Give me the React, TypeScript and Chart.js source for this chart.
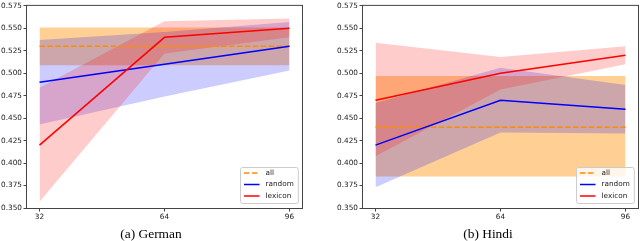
import React, { useEffect, useRef } from "react";
import { Chart, registerables } from "chart.js";

Chart.register(...registerables);

// ---------- data ----------
const X_VALUES = [32, 64, 96];
const X_TICKS = [32, 64, 96];
const Y_TICKS = [0.35, 0.375, 0.4, 0.425, 0.45, 0.475, 0.5, 0.525, 0.55, 0.575];
const SERIES_LABELS = ["all", "random", "lexicon"];

const GERMAN_ALL = [0.53, 0.53, 0.53];
const GERMAN_ALL_HI = [0.551, 0.551, 0.551];
const GERMAN_ALL_LO = [0.509, 0.509, 0.509];
const GERMAN_RANDOM = [0.49, 0.51, 0.53];
const GERMAN_RANDOM_HI = [0.537, 0.546, 0.557];
const GERMAN_RANDOM_LO = [0.443, 0.474, 0.503];
const GERMAN_LEXICON = [0.42, 0.54, 0.55];
const GERMAN_LEXICON_HI = [0.484, 0.558, 0.561];
const GERMAN_LEXICON_LO = [0.357, 0.522, 0.54];

const HINDI_ALL = [0.44, 0.44, 0.44];
const HINDI_ALL_HI = [0.497, 0.497, 0.497];
const HINDI_ALL_LO = [0.385, 0.385, 0.385];
const HINDI_RANDOM = [0.42, 0.47, 0.46];
const HINDI_RANDOM_HI = [0.467, 0.506, 0.487];
const HINDI_RANDOM_LO = [0.373, 0.434, 0.433];
const HINDI_LEXICON = [0.47, 0.5, 0.52];
const HINDI_LEXICON_HI = [0.534, 0.518, 0.53];
const HINDI_LEXICON_LO = [0.4075, 0.482, 0.51];

// ---------- styles ----------
const LINE_COLORS = ["#ff8c00", "#0000ff", "#ff0000"];
const FILL_COLORS = ["rgba(255,140,0,0.42)", "rgba(0,0,255,0.2)", "rgba(255,0,0,0.2)"];
const DASHES: number[][] = [[5.5, 2.4], [], []];
const TICK_FONT = { family: "DejaVu Sans", size: 7.3 };

const pts = (ys: number[]) => X_VALUES.map((x, i) => ({ x, y: ys[i] }));

const decor = {
  id: "decor",
  afterDraw(chart: any, _args: any, opts: any) {
    const { ctx, chartArea: a } = chart;
    ctx.save();
    // frame
    ctx.strokeStyle = "#444";
    ctx.lineWidth = 1;
    ctx.setLineDash([]);
    ctx.strokeRect(a.left - 0.5, a.top - 0.5, a.right - a.left + 1, a.bottom - a.top + 1);

    // legend
    ctx.font = `${TICK_FONT.size}px "${TICK_FONT.family}"`;
    const tw = Math.max(...SERIES_LABELS.map((l) => ctx.measureText(l).width));
    const w = 25 + tw + 4.5;
    const h = 36;
    const x0 = a.right - 3.7 - w;
    const y0 = a.bottom - 4.5 - h;
    ctx.beginPath();
    (ctx as any).roundRect(x0, y0, w, h, 2);
    ctx.fillStyle = "rgba(255,255,255,0.8)";
    ctx.fill();
    ctx.strokeStyle = "#cccccc";
    ctx.lineWidth = 1;
    ctx.stroke();
    SERIES_LABELS.forEach((lab, i) => {
      const y = y0 + 5.5 + i * 11.5;
      ctx.beginPath();
      ctx.setLineDash(DASHES[i]);
      ctx.strokeStyle = LINE_COLORS[i];
      ctx.lineWidth = 1.5;
      ctx.moveTo(x0 + 3.5, y);
      ctx.lineTo(x0 + 19, y);
      ctx.stroke();
      ctx.setLineDash([]);
      ctx.fillStyle = "#222";
      ctx.textAlign = "left";
      ctx.textBaseline = "middle";
      ctx.fillText(lab, x0 + 25, y);
    });

    // caption
    ctx.font = '13.4px "Liberation Serif"';
    ctx.fillStyle = "#000";
    ctx.textAlign = "center";
    ctx.textBaseline = "alphabetic";
    ctx.fillText(opts.caption, opts.captionX, 238);
    ctx.restore();
  },
};

type PanelCfg = {
  left: number;
  axisWidth: number;
  padRight: number;
  caption: string;
  captionX: number;
  mean: number[][];
  hi: number[][];
  lo: number[][];
};

function buildConfig(cfg: PanelCfg): any {
  const datasets: any[] = [];
  SERIES_LABELS.forEach((lab, i) => {
    datasets.push({
      label: lab,
      data: pts(cfg.mean[i]),
      borderColor: LINE_COLORS[i],
      borderDash: DASHES[i],
      borderWidth: 1.5,
      pointRadius: 0,
      tension: 0,
      fill: false,
      order: 2 - i,
    });
  });
  SERIES_LABELS.forEach((lab, i) => {
    const hiIndex = datasets.length;
    datasets.push({
      label: lab + "_hi",
      data: pts(cfg.hi[i]),
      borderColor: "transparent",
      borderWidth: 0,
      pointRadius: 0,
      tension: 0,
      backgroundColor: FILL_COLORS[i],
      fill: hiIndex + 1,
      order: 30 - i * 10,
    });
    datasets.push({
      label: lab + "_lo",
      data: pts(cfg.lo[i]),
      borderColor: "transparent",
      borderWidth: 0,
      pointRadius: 0,
      tension: 0,
      fill: false,
      order: 30 - i * 10,
    });
  });

  return {
    type: "line",
    data: { datasets },
    plugins: [decor],
    options: {
      animation: false,
      responsive: false,
      devicePixelRatio: 1,
      layout: { padding: { left: 0, right: cfg.padRight, top: 3, bottom: 0 } },
      plugins: {
        legend: { display: false },
        tooltip: { enabled: false },
        title: { display: false },
        decor: { caption: cfg.caption, captionX: cfg.captionX },
      },
      scales: {
        x: {
          type: "linear",
          min: 28.8,
          max: 99.2,
          afterBuildTicks: (s: any) => {
            s.ticks = X_TICKS.map((v) => ({ value: v }));
          },
          afterFit: (s: any) => {
            s.height = 33;
          },
          ticks: {
            autoSkip: false,
            maxRotation: 0,
            padding: 1.5,
            color: "#222",
            font: TICK_FONT,
            callback: (v: any) => String(v),
          },
          grid: { display: true, drawOnChartArea: false, drawTicks: true, tickLength: 3.5, color: "#444" },
          border: { display: false },
        },
        y: {
          type: "linear",
          min: 0.35,
          max: 0.575,
          afterBuildTicks: (s: any) => {
            s.ticks = Y_TICKS.map((v) => ({ value: v }));
          },
          afterFit: (s: any) => {
            s.width = cfg.axisWidth;
          },
          ticks: {
            autoSkip: false,
            padding: 1.5,
            color: "#222",
            font: TICK_FONT,
            callback: (v: any) => Number(v).toFixed(3),
          },
          grid: { display: true, drawOnChartArea: false, drawTicks: true, tickLength: 3.5, color: "#444" },
          border: { display: false },
        },
      },
    },
  };
}

function Panel({ cfg }: { cfg: PanelCfg }) {
  const ref = useRef<HTMLCanvasElement>(null);
  useEffect(() => {
    const chart = new Chart(ref.current as HTMLCanvasElement, buildConfig(cfg));
    return () => chart.destroy();
  }, []);
  return (
    <canvas
      ref={ref}
      width={320}
      height={241}
      style={{ position: "absolute", left: cfg.left, top: 0, width: 320, height: 241 }}
    />
  );
}

const GERMAN_CFG: PanelCfg = {
  left: 0,
  axisWidth: 27,
  padRight: 18,
  caption: "(a) German",
  captionX: 151,
  mean: [GERMAN_ALL, GERMAN_RANDOM, GERMAN_LEXICON],
  hi: [GERMAN_ALL_HI, GERMAN_RANDOM_HI, GERMAN_LEXICON_HI],
  lo: [GERMAN_ALL_LO, GERMAN_RANDOM_LO, GERMAN_LEXICON_LO],
};

const HINDI_CFG: PanelCfg = {
  left: 320,
  axisWidth: 43,
  padRight: 2,
  caption: "(b) Hindi",
  captionX: 168,
  mean: [HINDI_ALL, HINDI_RANDOM, HINDI_LEXICON],
  hi: [HINDI_ALL_HI, HINDI_RANDOM_HI, HINDI_LEXICON_HI],
  lo: [HINDI_ALL_LO, HINDI_RANDOM_LO, HINDI_LEXICON_LO],
};

export default function App() {
  return (
    <div style={{ position: "fixed", left: 0, top: 0, width: 640, height: 241, background: "#fff" }}>
      <Panel cfg={GERMAN_CFG} />
      <Panel cfg={HINDI_CFG} />
    </div>
  );
}
